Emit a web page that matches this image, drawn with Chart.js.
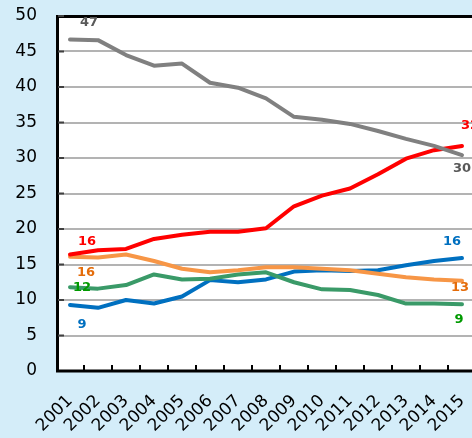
<!DOCTYPE html>
<html>
<head>
<meta charset="utf-8">
<script src="https://cdn.jsdelivr.net/npm/chart.js@4/dist/chart.umd.min.js"></script>
<style>
html,body{margin:0;padding:0;overflow:hidden;background:#D4EDF9;}
#wrap{width:478px;height:438px;position:relative;}
</style>
</head>
<body>
<div id="wrap"><canvas id="c"></canvas></div>
<script>
const years = ['2001','2002','2003','2004','2005','2006','2007','2008','2009','2010','2011','2012','2013','2014','2015'];
const yTicks = [0,5,10,15,20,25,30,35,40,45,50];
const grayVals   = [46.7,46.6,44.5,43.0,43.3,40.6,39.9,38.4,35.8,35.4,34.8,33.8,32.7,31.7,30.4];
const redVals    = [16.4,17.0,17.2,18.6,19.2,19.6,19.6,20.1,23.2,24.7,25.7,27.7,29.9,31.1,31.7];
const orangeVals = [16.1,16.0,16.4,15.5,14.4,13.9,14.2,14.6,14.6,14.4,14.2,13.7,13.2,12.9,12.7];
const greenVals  = [11.8,11.6,12.1,13.6,12.9,13.0,13.6,13.9,12.5,11.5,11.4,10.7,9.5,9.5,9.4];
const blueVals   = [9.3,8.9,10.0,9.5,10.5,12.8,12.5,12.9,14.0,14.2,14.1,14.2,14.9,15.5,15.9];

// label styling per dataset: [color, startOffset, endOffset]
const labelStyle = [
  {color:'#595959', start:[19,-17], end:[0,13]},
  {color:'#FF0000', start:[17,-13], end:[8,-20]},
  {color:'#E46C0A', start:[16,16], end:[-2,7]},
  {color:'#009A00', start:[12,0], end:[-3,15]},
  {color:'#0070C0', start:[12,20], end:[-10,-16]}
];

const decor = {
  id:'decor',
  beforeDraw(chart){
    const {ctx, chartArea:a} = chart;
    ctx.save();
    ctx.fillStyle='#FFFFFF';
    ctx.fillRect(a.left,a.top,a.right-a.left+20,a.bottom-a.top);
    ctx.restore();
  },
  afterDatasetsDraw(chart){
    const {ctx, chartArea:a} = chart;
    const x = chart.scales.x, y = chart.scales.y;
    ctx.save();
    // border
    ctx.strokeStyle='#000';
    ctx.lineWidth=3;
    ctx.beginPath();
    ctx.moveTo(a.right+20,a.top+0.5);
    ctx.lineTo(a.left+1.5,a.top+0.5);
    ctx.lineTo(a.left+1.5,a.bottom);
    ctx.lineTo(a.right+20,a.bottom);
    ctx.stroke();
    // x tick marks (inward, at category boundaries)
    ctx.lineWidth=2;
    for(let i=0;i<years.length-1;i++){
      const px = (x.getPixelForValue(i)+x.getPixelForValue(i+1))/2;
      ctx.beginPath();
      ctx.moveTo(px,a.bottom);
      ctx.lineTo(px,a.bottom-6);
      ctx.stroke();
    }
    // y tick marks
    ctx.strokeStyle='#404040';
    yTicks.forEach(v=>{
      if(v===0) return;
      const py = y.getPixelForValue(v);
      ctx.beginPath();
      ctx.moveTo(a.left+2,py);
      ctx.lineTo(a.left+8,py);
      ctx.stroke();
    });
    // data labels
    ctx.font='bold 13px "DejaVu Sans"';
    ctx.textAlign='center';
    ctx.textBaseline='middle';
    chart.data.datasets.forEach((ds,di)=>{
      const st = labelStyle[di];
      const meta = chart.getDatasetMeta(di);
      const n = ds.data.length;
      const p0 = meta.data[0], p1 = meta.data[n-1];
      ctx.fillStyle = st.color;
      ctx.fillText(String(Math.round(ds.data[0])), p0.x+st.start[0], p0.y+st.start[1]);
      ctx.fillText(String(Math.round(ds.data[n-1])), p1.x+st.end[0], p1.y+st.end[1]);
    });
    ctx.restore();
  }
};

const mk = (data,color)=>({data, borderColor:color, backgroundColor:color, borderWidth:4, pointRadius:0, tension:0, fill:false, borderCapStyle:'round', borderJoinStyle:'round'});

new Chart(document.getElementById('c'),{
  type:'line',
  data:{
    labels:years,
    datasets:[
      mk(grayVals,'#808080'),
      mk(redVals,'#FF0000'),
      mk(orangeVals,'#F79646'),
      mk(greenVals,'#3A9A68'),
      mk(blueVals,'#0070C0')
    ]
  },
  options:{
    responsive:true,
    maintainAspectRatio:false,
    animation:false,
    devicePixelRatio:1,
    layout:{padding:{top:16,right:2,left:0,bottom:0}},
    plugins:{legend:{display:false},tooltip:{enabled:false}},
    scales:{
      x:{
        type:'category',
        offset:true,
        grid:{display:false},
        border:{display:false},
        ticks:{color:'#000',font:{family:'"DejaVu Sans"',size:17},minRotation:45,maxRotation:45,autoSkip:false,padding:12},
        afterFit(s){s.height=67;s.paddingLeft=0;s.paddingRight=0;}
      },
      y:{
        min:0,max:50,
        afterBuildTicks(s){s.ticks=yTicks.map(v=>({value:v}));},
        grid:{color:'#B3B3B3',lineWidth:2,drawTicks:false},
        border:{display:false},
        ticks:{color:'#000',font:{family:'"DejaVu Sans"',size:17},padding:19},
        afterFit(s){s.width=56;s.paddingTop=0;s.paddingBottom=0;}
      }
    }
  },
  plugins:[decor]
});
</script>
</body>
</html>
